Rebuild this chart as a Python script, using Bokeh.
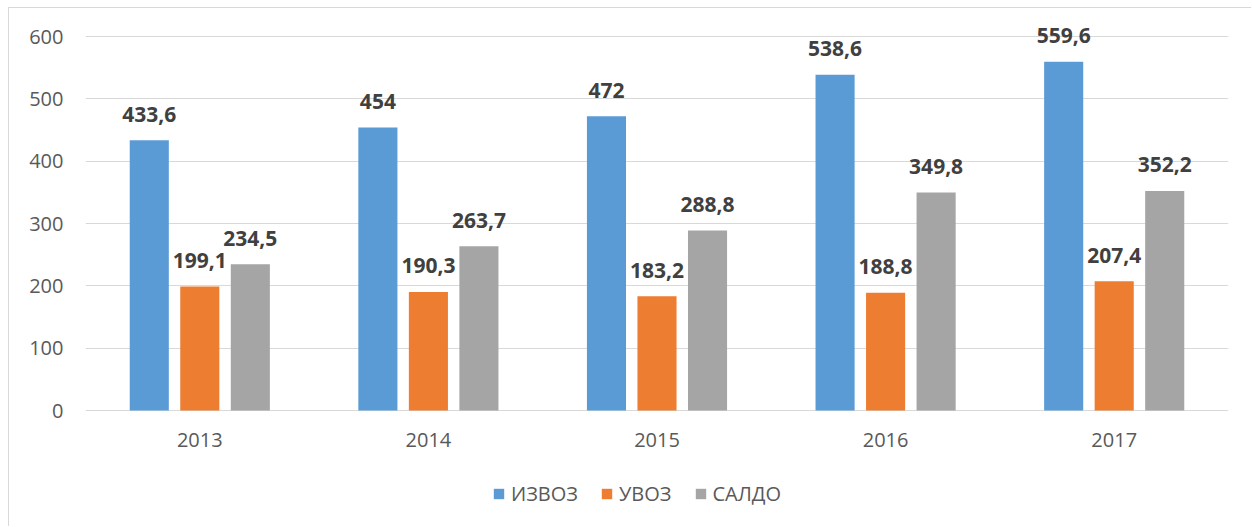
from bokeh.plotting import figure
from bokeh.models import ColumnDataSource, FactorRange, FixedTicker, Legend, LegendItem
from bokeh.transform import dodge
from bokeh.core.properties import value
from bokeh.embed import file_html
from bokeh.resources import INLINE

years = ["2013", "2014", "2015", "2016", "2017"]
izvoz = [433.6, 454, 472, 538.6, 559.6]
uvoz = [199.1, 190.3, 183.2, 188.8, 207.4]
saldo = [234.5, 263.7, 288.8, 349.8, 352.2]
series_names = ["ИЗВОЗ", "УВОЗ", "САЛДО"]
y_ticks = [0, 100, 200, 300, 400, 500, 600]

def fmt(v):
    s = ("%.1f" % v).rstrip("0").rstrip(".")
    return s.replace(".", ",")

src = ColumnDataSource(dict(
    years=years, izvoz=izvoz, uvoz=uvoz, saldo=saldo,
    zero=[0] * len(years),
    izvoz_t=[fmt(v) for v in izvoz],
    uvoz_t=[fmt(v) for v in uvoz],
    saldo_t=[fmt(v) for v in saldo],
))

FONT = "Open Sans"

# frame extends beyond the value axis to host labels and the legend
PX_PER_UNIT = 374 / 600
Y_BOTTOM = -117 / PX_PER_UNIT
Y_TOP = 600 + 28 / PX_PER_UNIT

p = figure(x_range=FactorRange(factors=years), y_range=(Y_BOTTOM, Y_TOP),
           width=1243, height=519, output_backend="svg", toolbar_location=None,
           min_border_left=76, min_border_right=24, min_border_top=0, min_border_bottom=0)
p.styles = {"margin-left": "8px", "margin-top": "7px",
            "border-left": "1px solid #d9d9d9", "border-top": "1px solid #d9d9d9"}
p.outline_line_color = None
p.background_fill_color = "white"
p.border_fill_color = "white"

colors = ["#5b9bd5", "#ed7d31", "#a5a5a5"]
fields = ["izvoz", "uvoz", "saldo"]
offsets = [-0.221, 0.0, 0.221]
renderers = []
for f, c, o in zip(fields, colors, offsets):
    r = p.vbar(x=dodge("years", o, range=p.x_range), top=f, width=0.171, source=src,
               fill_color=c, line_color=None)
    renderers.append(r)
    p.text(x=dodge("years", o, range=p.x_range), y=f, text=f + "_t", source=src,
           text_align="center", text_baseline="alphabetic", y_offset=-26,
           text_font=value(FONT), text_font_style="bold", text_font_size="21px",
           text_color="#404040")

# category labels under the zero line
p.text(x="years", y="zero", text="years", source=src, text_align="center",
       text_baseline="alphabetic", y_offset=29, text_font=value(FONT),
       text_font_size="20px", text_color="#595959")

p.yaxis.ticker = FixedTicker(ticks=y_ticks)
p.yaxis.axis_line_color = None
p.yaxis.major_tick_line_color = None
p.yaxis.minor_tick_line_color = None
p.yaxis.major_tick_out = 0
p.yaxis.major_tick_in = 0
p.yaxis.major_label_standoff = 22
p.yaxis.major_label_text_font = FONT
p.yaxis.major_label_text_font_size = "20px"
p.yaxis.major_label_text_color = "#595959"

p.xaxis.visible = False

p.xgrid.grid_line_color = None
p.ygrid.ticker = FixedTicker(ticks=y_ticks)
p.ygrid.grid_line_color = "#d9d9d9"
p.ygrid.grid_line_width = 1

legend = Legend(items=[LegendItem(label=n, renderers=[r]) for n, r in zip(series_names, renderers)],
                orientation="horizontal", location=(407, 20),
                glyph_width=13, glyph_height=13, label_standoff=6, spacing=22,
                padding=0, margin=0, border_line_color=None, background_fill_alpha=0,
                label_text_font=FONT, label_text_font_size="20px", label_text_color="#595959")
p.add_layout(legend, "center")

open("out.html", "w").write(file_html(p, INLINE))
